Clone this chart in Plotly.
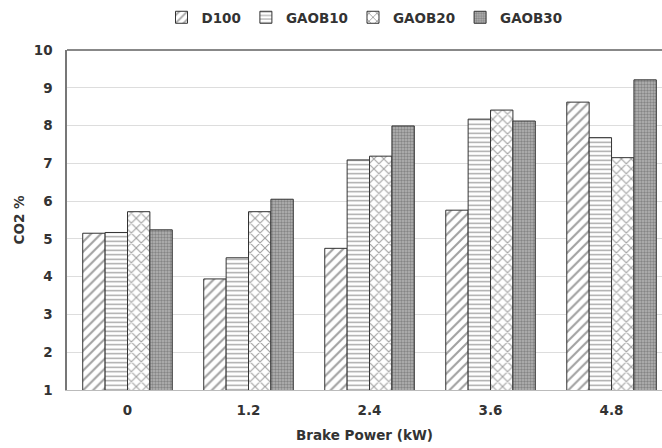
import plotly.graph_objects as go

categories = ["0", "1.2", "2.4", "3.6", "4.8"]
d100 = [5.15, 3.94, 4.75, 5.76, 8.62]
gaob10 = [5.17, 4.50, 7.09, 8.17, 7.68]
gaob20 = [5.72, 5.72, 7.19, 8.41, 7.15]
gaob30 = [5.24, 6.05, 7.99, 8.12, 9.21]

series = [
    ("D100", d100, dict(shape="/", fgcolor="#444", bgcolor="white", size=7, solidity=0.3)),
    ("GAOB10", gaob10, dict(shape="-", fgcolor="#444", bgcolor="white", size=4.5, solidity=0.3)),
    ("GAOB20", gaob20, dict(shape="x", fgcolor="#444", bgcolor="white", size=7, solidity=0.3)),
    ("GAOB30", gaob30, dict(shape=".", fgcolor="#555", bgcolor="#b5b5b5", size=3, solidity=0.5)),
]

fig = go.Figure()
for name, vals, pat in series:
    fig.add_trace(go.Bar(
        x=categories, y=vals, name=name,
        marker=dict(color="white", pattern=pat, line=dict(color="#333", width=1)),
    ))

font = dict(family="DejaVu Sans, sans-serif", size=13.5, color="#333", weight="bold")
fig.update_layout(
    width=662, height=448,
    margin=dict(l=67, r=0, t=50, b=58),
    paper_bgcolor="white", plot_bgcolor="white",
    barmode="group", bargap=0.26, bargroupgap=0,
    font=font,
    showlegend=True,
    legend=dict(orientation="h", x=0.5, xanchor="center", y=1.05, yanchor="bottom",
                font=font, itemwidth=30, tracegroupgap=0),
    xaxis=dict(range=[-0.5, 4.417], showgrid=False, showline=True, linecolor="#bbb",
               ticks="", tickfont=font, ticklabelstandoff=8,
               title=dict(text="Brake Power (kW)", font=font, standoff=13)),
    yaxis=dict(range=[1, 10], dtick=1, showgrid=True, gridcolor="#ddd", gridwidth=1,
               showline=True, linecolor="#777", linewidth=1.5, mirror=False,
               ticks="", tickfont=font, zeroline=False, ticklabelstandoff=10,
               title=dict(text="CO2 %", font=font, standoff=6)),
)
fig.add_shape(type="line", xref="paper", yref="paper", x0=0, x1=1, y0=1, y1=1,
              line=dict(color="#888", width=2))
fig.write_html("out.html")
